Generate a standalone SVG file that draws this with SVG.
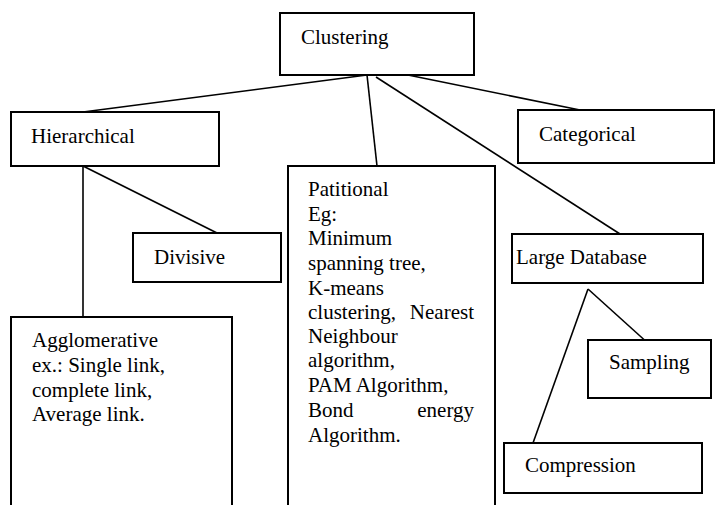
<svg xmlns="http://www.w3.org/2000/svg" width="716" height="505" viewBox="0 0 716 505">
  <style>
    .box { fill: #fff; stroke: #000; stroke-width: 2; }
    .edge { stroke: #000; stroke-width: 1.6; fill: none; }
    text { font-family: "Liberation Serif", "Times New Roman", serif; font-size: 21px; fill: #000; }
  </style>
  <rect width="716" height="505" fill="#fff"/>

  <!-- connectors -->
  <g id="connectors">
    <line class="edge" x1="367" y1="75" x2="83" y2="112"/>
    <line class="edge" x1="367" y1="75" x2="377" y2="166"/>
    <line class="edge" x1="376" y1="77" x2="620" y2="234"/>
    <line class="edge" x1="403" y1="74" x2="580" y2="110"/>
    <line class="edge" x1="83" y1="166" x2="83" y2="317"/>
    <line class="edge" x1="83" y1="166" x2="217" y2="233"/>
    <line class="edge" x1="588" y1="289" x2="650" y2="345"/>
    <line class="edge" x1="588" y1="289" x2="533" y2="443"/>
  </g>

  <g id="clustering">
    <rect class="box" x="280" y="13" width="194" height="62"/>
    <text x="301" y="44">Clustering</text>
  </g>

  <g id="hierarchical">
    <rect class="box" x="11" y="112" width="208" height="54"/>
    <text x="31" y="143">Hierarchical</text>
  </g>

  <g id="categorical">
    <rect class="box" x="518" y="110" width="196" height="53"/>
    <text x="539" y="141">Categorical</text>
  </g>

  <g id="divisive">
    <rect class="box" x="133" y="233" width="148" height="49"/>
    <text x="154" y="264">Divisive</text>
  </g>

  <g id="agglomerative">
    <path class="box" d="M11,506 V317 H232 V506"/>
    <text x="32" y="347">Agglomerative</text>
    <text x="32" y="372">ex.: Single link,</text>
    <text x="32" y="397">complete link,</text>
    <text x="32" y="421">Average link.</text>
  </g>

  <g id="partitional">
    <path class="box" d="M288,506 V166 H495 V506"/>
    <text x="308" y="196">Patitional</text>
    <text x="308" y="221">Eg:</text>
    <text x="308" y="245">Minimum</text>
    <text x="308" y="270">spanning tree,</text>
    <text x="308" y="295">K-means</text>
    <text x="308" y="319">clustering,</text>
    <text x="474" y="319" text-anchor="end">Nearest</text>
    <text x="308" y="343">Neighbour</text>
    <text x="308" y="367">algorithm,</text>
    <text x="308" y="392">PAM Algorithm,</text>
    <text x="308" y="417">Bond</text>
    <text x="474" y="417" text-anchor="end">energy</text>
    <text x="308" y="442">Algorithm.</text>
  </g>

  <g id="large-database">
    <rect class="box" x="512" y="234" width="191" height="49"/>
    <text x="516" y="264">Large Database</text>
  </g>

  <g id="sampling">
    <rect class="box" x="588" y="340" width="123" height="58"/>
    <text x="609" y="369">Sampling</text>
  </g>

  <g id="compression">
    <rect class="box" x="504" y="443" width="198" height="50"/>
    <text x="525" y="472">Compression</text>
  </g>
</svg>
